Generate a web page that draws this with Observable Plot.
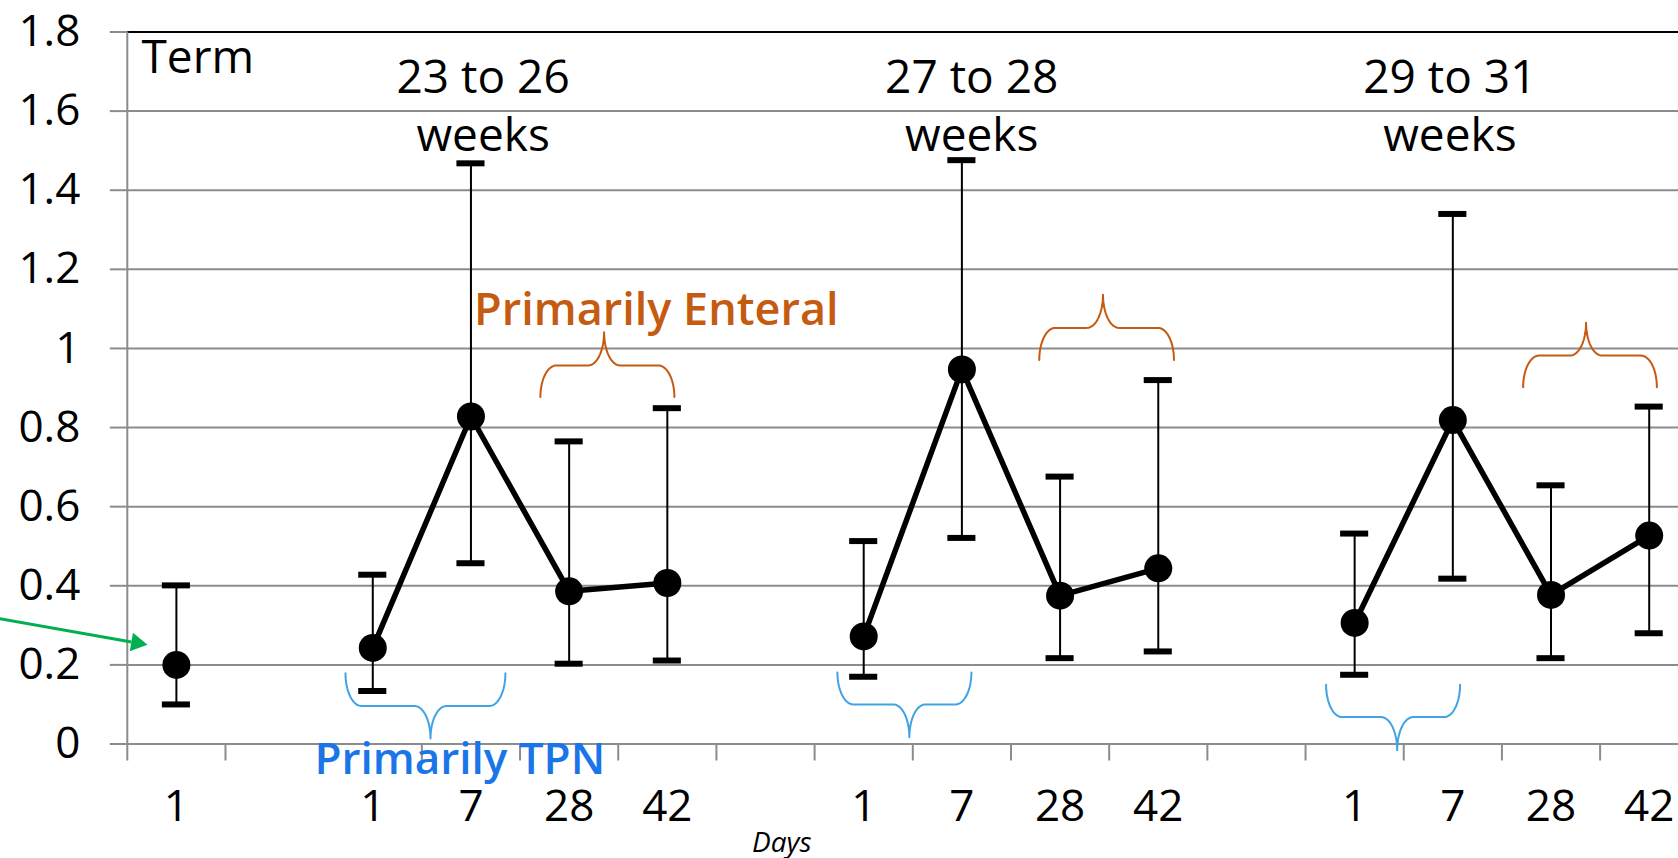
<!DOCTYPE html>
<html>
<head>
<meta charset="utf-8">
<script src="https://cdn.jsdelivr.net/npm/d3@7"></script>
<script src="https://cdn.jsdelivr.net/npm/@observablehq/plot@0.6"></script>
<style>
  html, body { margin: 0; padding: 0; background: #fff; overflow: hidden; }
  #chart svg { display: block; }
</style>
</head>
<body>
<div id="chart"></div>
<script>
// ---- categories (16 slots on the x axis, tick labels are days) ----
const dayLabels = ["1", "", "1", "7", "28", "42", "", "1", "7", "28", "42", "", "1", "7", "28", "42"];

// ---- series: one entry per plotted point ----
const pointSlot  = [0, 2, 3, 4, 5, 7, 8, 9, 10, 12, 13, 14, 15];
const pointGroup = ["Term",
  "23 to 26", "23 to 26", "23 to 26", "23 to 26",
  "27 to 28", "27 to 28", "27 to 28", "27 to 28",
  "29 to 31", "29 to 31", "29 to 31", "29 to 31"];
const meanValues  = [0.200, 0.243, 0.828, 0.386, 0.407, 0.272, 0.947, 0.375, 0.444, 0.306, 0.819, 0.377, 0.527];
const upperValues = [0.401, 0.428, 1.468, 0.765, 0.849, 0.513, 1.476, 0.676, 0.920, 0.532, 1.340, 0.654, 0.853];
const lowerValues = [0.100, 0.134, 0.457, 0.203, 0.211, 0.170, 0.521, 0.217, 0.234, 0.175, 0.418, 0.217, 0.280];

// ---- y axis ticks ----
const yTicks = [0, 0.2, 0.4, 0.6, 0.8, 1, 1.2, 1.4, 1.6, 1.8];
const yTickLabels = ["0", "0.2", "0.4", "0.6", "0.8", "1", "1.2", "1.4", "1.6", "1.8"];

// ---- annotations ----
const groupTitles = ["23 to 26\nweeks", "27 to 28\nweeks", "29 to 31\nweeks"];
const groupTitleX = [3.624, 8.600, 13.470];
const blueBraces = [
  {x1: 2.222, x2: 3.851, tip: 3.088, yEnd: 0.179, yMid: 0.096, yTip: 0.014},
  {x1: 7.232, x2: 8.597, tip: 7.965, yEnd: 0.181, yMid: 0.100, yTip: 0.017},
  {x1: 12.209, x2: 13.574, tip: 12.933, yEnd: 0.150, yMid: 0.068, yTip: -0.016}
];
const orangeBraces = [
  {x1: 4.207, x2: 5.572, tip: 4.856, yEnd: 0.877, yMid: 0.957, yTip: 1.041},
  {x1: 9.288, x2: 10.660, tip: 9.937, yEnd: 0.971, yMid: 1.052, yTip: 1.136},
  {x1: 14.216, x2: 15.578, tip: 14.857, yEnd: 0.902, yMid: 0.982, yTip: 1.065}
];

// ---- build tables ----
const points = pointSlot.map((s, i) => ({
  x: s + 0.5, group: pointGroup[i], mean: meanValues[i], upper: upperValues[i], lower: lowerValues[i]
}));
const caps = points.flatMap(d => [{x: d.x, y: d.upper}, {x: d.x, y: d.lower}]);
const capHalf = 0.143;

function bracePoints(braces, prefix) {
  const rx = 0.163, n = 16, out = [];
  braces.forEach((b, k) => {
    const id = prefix + k, pts = [];
    for (let i = 0; i <= n; i++) { const t = i / n * Math.PI / 2;
      pts.push([b.x1 + rx - rx * Math.cos(t), b.yEnd + (b.yMid - b.yEnd) * Math.sin(t)]); }
    for (let i = 0; i <= n; i++) { const t = i / n * Math.PI / 2;
      pts.push([b.tip - rx + rx * Math.sin(t), b.yTip + (b.yMid - b.yTip) * Math.cos(t)]); }
    for (let i = 0; i <= n; i++) { const t = i / n * Math.PI / 2;
      pts.push([b.tip + rx - rx * Math.cos(t), b.yTip + (b.yMid - b.yTip) * Math.sin(t)]); }
    for (let i = 0; i <= n; i++) { const t = i / n * Math.PI / 2;
      pts.push([b.x2 - rx + rx * Math.sin(t), b.yEnd + (b.yMid - b.yEnd) * Math.cos(t)]); }
    pts.forEach(p => out.push({x: p[0], y: p[1], id}));
  });
  return out;
}

const gray = "#8c8c8c";
const font = "'Open Sans', 'DejaVu Sans', sans-serif";

const chart = Plot.plot({
  width: 1678,
  height: 858,
  marginLeft: 126.8,
  marginRight: -19.8,
  marginTop: 31.5,
  marginBottom: 114.5,
  style: {fontFamily: font, background: "#fff", color: "#000"},
  x: {domain: [0, 16], range: [126.8, 1697.8]},
  y: {domain: [0, 1.8], range: [743.5, 31.5]},
  marks: [
    // gridlines
    Plot.ruleY(yTicks.slice(0, -1), {stroke: gray, strokeWidth: 2}),
    Plot.ruleY([1.8], {stroke: "#000", strokeWidth: 2.2}),
    // y axis
    Plot.ruleX([0], {stroke: gray, strokeWidth: 2}),
    Plot.axisY({ticks: yTicks, tickFormat: (d, i) => yTickLabels[i], tickSize: 17, tickPadding: 30,
      fontSize: 44, stroke: gray, strokeWidth: 2, fill: "#000", label: null}),
    // x axis tick marks (between categories)
    Plot.axisX({ticks: d3.range(0, 17), tickFormat: () => "", tickSize: 17, stroke: gray, strokeWidth: 2, label: null}),
    // x axis day labels
    Plot.axisX({ticks: dayLabels.map((_, i) => i + 0.5), tickFormat: (d) => dayLabels[Math.floor(d)],
      tickSize: 0, tickPadding: 46, fontSize: 44, fill: "#000", label: null}),
    // braces
    Plot.line(bracePoints(blueBraces, "b"), {x: "x", y: "y", z: "id", stroke: "#41a3e6", strokeWidth: 2}),
    Plot.line(bracePoints(orangeBraces, "o"), {x: "x", y: "y", z: "id", stroke: "#c55a11", strokeWidth: 2}),
    // error bars
    Plot.ruleX(points, {x: "x", y1: "lower", y2: "upper", stroke: "#000", strokeWidth: 2}),
    Plot.ruleY(caps, {y: "y", x1: d => d.x - capHalf, x2: d => d.x + capHalf, stroke: "#000", strokeWidth: 6}),
    // lines per group
    Plot.line(points.filter(d => d.group !== "Term"), {x: "x", y: "mean", z: "group", stroke: "#000", strokeWidth: 5.5}),
    Plot.dot(points, {x: "x", y: "mean", r: 14, fill: "#000"}),
    // green arrow
    Plot.link([{x1: -1.393, y1: 0.321, x2: 0.042, y2: 0.258}], {x1: "x1", y1: "y1", x2: "x2", y2: "y2", stroke: "#00b050", strokeWidth: 3}),
    Plot.dot([{x: 0.096, y: 0.2556}], {x: "x", y: "y", symbol: "triangle", r: 7, fill: "#00b050", rotate: 100}),
    // texts
    Plot.text(["Term"], {x: [0.145], y: [1.696], text: d => d, textAnchor: "start", lineAnchor: "bottom", fontSize: 46, fill: "#000"}),
    Plot.text(groupTitles, {x: groupTitleX, y: groupTitleX.map(() => 1.5), text: d => d, textAnchor: "middle",
      lineAnchor: "bottom", lineHeight: 1.245, fontSize: 46, fill: "#000"}),
    Plot.text(["Primarily Enteral"], {x: [3.532], y: [1.060], text: d => d, textAnchor: "start", lineAnchor: "bottom",
      fontSize: 45, fontWeight: 600, fill: "#c55a11"}),
    Plot.text(["Primarily TPN"], {x: [1.906], y: [-0.077], text: d => d, textAnchor: "start", lineAnchor: "bottom",
      fontSize: 44, fontWeight: 600, fill: "#1a75e8"}),
    Plot.text(["Days"], {x: [6.363], y: [-0.2735], text: d => d, textAnchor: "start", lineAnchor: "bottom",
      fontSize: 28, fontStyle: "italic", fill: "#000"})
  ]
});
document.getElementById("chart").appendChild(chart);
</script>
</body>
</html>
